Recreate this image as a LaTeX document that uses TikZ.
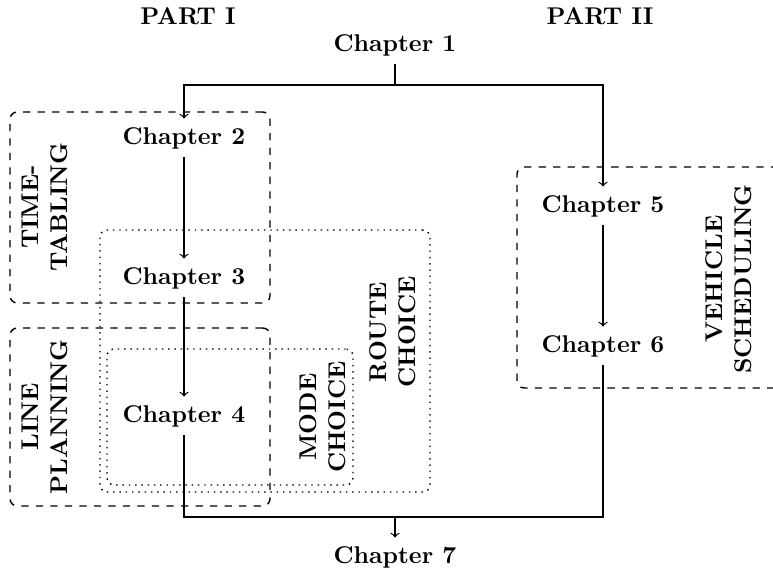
\documentclass[tikz,border=0pt]{standalone}
\usetikzlibrary{fit}
\begin{document}
\begin{tikzpicture}[x=0.4132pt, y=-0.4132pt, font=\bfseries,
  line width=0.5pt,
  chap/.style={inner sep=3.33pt},
  area/.style={align=center, rotate=90, inner sep=0pt},
  dashbox/.style={draw, dashed, line width=0.6pt, rounded corners=3pt, inner sep=0pt},
  dotbox/.style={draw, dotted, line width=0.6pt, rounded corners=3pt, inner sep=0pt},
  link/.style={->}]
  \useasboundingbox (0,0) rectangle (773,576);
  \clip (0,0) rectangle (773,576);

  % part headings
  \node (p1) at (188,16) {PART I};
  \node (p2) at (600,16) {PART II};

  % topic regions
  \node[dashbox, fit={(10,112) (270,303)}] (tt) {};
  \node[dashbox, fit={(10,328) (270,506)}] (lp) {};
  \node[dashbox, fit={(517,167) (800,388)}] (vs) {};
  \node[dotbox, fit={(100,230) (430,492)}] (rc) {};
  \node[dotbox, fit={(107,349) (353,485)}] (mc) {};

  \node[area] (ttl) at (45,207) {TIME-\\TABLING};
  \node[area] (lpl) at (45,417) {LINE\\PLANNING};
  \node[area] (mcl) at (323,417) {MODE\\CHOICE};
  \node[area] (rcl) at (393,332) {ROUTE\\CHOICE};
  \node[area] (vsl) at (729,279) {VEHICLE\\SCHEDULING};

  % chapters
  \node[chap] (c1) at (395,45) {Chapter 1};
  \node[chap] (c2) at (184,138) {Chapter 2};
  \node[chap] (c3) at (184,278) {Chapter 3};
  \node[chap] (c4) at (184,416) {Chapter 4};
  \node[chap] (c5) at (603,206) {Chapter 5};
  \node[chap] (c6) at (603,346) {Chapter 6};
  \node[chap] (c7) at (395,557) {Chapter 7};

  % connectors
  \coordinate (split) at (395,85);
  \coordinate (join) at (395,517);
  \draw (c1) -- (split);
  \draw[link] (split) -| (c2);
  \draw[link] (split) -| (c5);
  \draw[link] (c2) -- (c3);
  \draw[link] (c3) -- (c4);
  \draw[link] (c5) -- (c6);
  \draw (c4.south) -- (c4.south |- join) -- (c6.south |- join) -- (c6.south);
  \draw[link] (join) -- (c7);
\end{tikzpicture}
\end{document}
